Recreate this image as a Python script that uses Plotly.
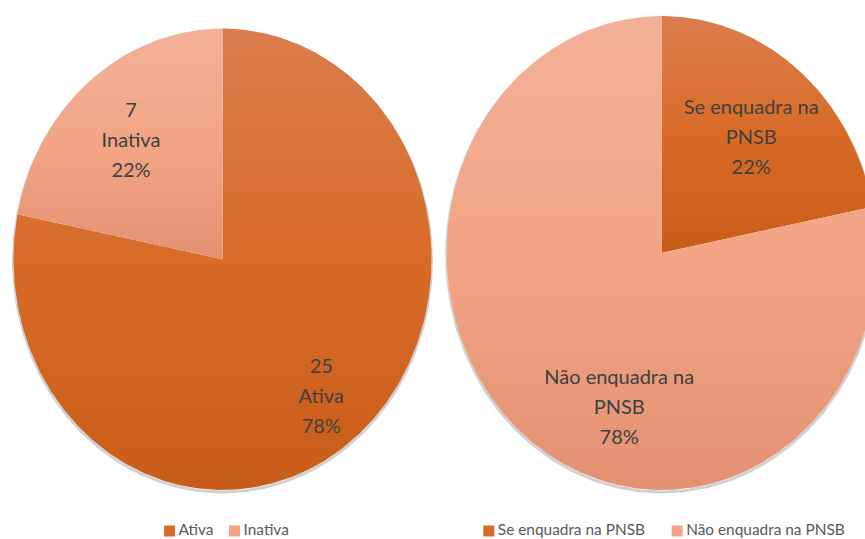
import numpy as np
import plotly.graph_objects as go

# dados
status_labels = ["Ativa", "Inativa"]
status_values = [25, 7]

pnsb_labels = ["Se enquadra na PNSB", "Não enquadra na PNSB"]
pnsb_values = [7, 25]

# cores (topo, meio, base) para o degradê vertical
escuro = ["#DA7D4D", "#D96B27", "#C85C19"]
claro = ["#F2B198", "#F3A585", "#E39172"]

W, H = 865, 539
fonte = "Lato"

fig = go.Figure()


def fatia(cx, cy, rx, ry, a0, a1):
    t = np.linspace(a0, a1, max(int((a1 - a0) * 80), 4))
    xs = np.concatenate([[cx], cx + rx * np.sin(t), [cx]])
    ys = np.concatenate([[cy], cy - ry * np.cos(t), [cy]])
    return xs, ys


def pizza(cx, cy, rx, ry, labels, values, cores, textos, rlab):
    total = sum(values)
    # sombra leve na borda
    t = np.linspace(0, 2 * np.pi, 300)
    fig.add_trace(go.Scatter(x=cx + rx * np.sin(t), y=cy + 2 - ry * np.cos(t), mode="lines",
                             line=dict(color="rgba(0,0,0,0.18)", width=3), hoverinfo="skip",
                             showlegend=False))
    a = 0.0
    for i, (lab, v) in enumerate(zip(labels, values)):
        a1 = a + v / total * 2 * np.pi
        xs, ys = fatia(cx, cy, rx, ry, a, a1)
        c = cores[i]
        fig.add_trace(go.Scatter(
            x=xs, y=ys, mode="lines", fill="toself", line=dict(width=0, color=c[1]),
            fillgradient=dict(type="vertical",
                              colorscale=[[0, c[2]], [0.5, c[1]], [1, c[0]]]),
            name=lab, showlegend=False, hoverinfo="name"))
        # rótulo
        mid = (a + a1) / 2
        dx, dy, r = rlab[i]
        lx = cx + rx * r * np.sin(mid) + dx
        ly = cy - ry * r * np.cos(mid) + dy + 6
        linhas = textos[i]
        n = len(linhas)
        fig.add_trace(go.Scatter(
            x=[lx] * n, y=[ly + (k - (n - 1) / 2) * 30 for k in range(n)],
            mode="text", text=linhas, textposition="middle center",
            textfont=dict(family=fonte, size=20, color="#404040"),
            showlegend=False, hoverinfo="skip"))
        a = a1


def legenda(cx, y, labels, cores, gap=20):
    larg = [len(l) * 7.7 for l in labels]
    total = sum(14 + w for w in larg) + gap * (len(labels) - 1)
    x = cx - total / 2
    for lab, c, w in zip(labels, cores, larg):
        fig.add_trace(go.Scatter(
            x=[x + 5], y=[y], mode="markers",
            marker=dict(symbol="square", size=11, color=c[1], line=dict(width=0)),
            showlegend=False, hoverinfo="skip"))
        fig.add_trace(go.Scatter(
            x=[x + 14], y=[y], mode="text", text=[lab], textposition="middle right",
            textfont=dict(family=fonte, size=15.4, color="#595959"),
            showlegend=False, hoverinfo="skip"))
        x += 14 + w + gap


tot1 = sum(status_values)
txt1 = [[str(v), l, f"{v / tot1:.0%}"] for l, v in zip(status_labels, status_values)]
pizza(222.5, 259.3, 209, 230.7, status_labels, status_values, [escuro, claro], txt1,
      [(0, 0, 0.745), (0, 0, 0.69)])

tot2 = sum(pnsb_values)
txt2 = [["Se enquadra na", "PNSB", f"{pnsb_values[0] / tot2:.0%}"],
        ["Não enquadra na", "PNSB", f"{pnsb_values[1] / tot2:.0%}"]]
pizza(661.7, 253, 215, 237, pnsb_labels, pnsb_values, [escuro, claro], txt2,
      [(-6, 8, 0.7), (53, 22, 0.7)])

legenda(231, 531, status_labels, [escuro, claro], gap=12.5)
legenda(662, 531, pnsb_labels, [escuro, claro], gap=28)

fig.update_layout(
    width=W, height=H,
    margin=dict(l=0, r=0, t=0, b=0),
    paper_bgcolor="white", plot_bgcolor="white",
    xaxis=dict(range=[0, W], visible=False, fixedrange=True),
    yaxis=dict(range=[H, 0], visible=False, fixedrange=True),
    showlegend=False,
)

fig.write_html("out.html", config={"displayModeBar": False},
               post_script="document.body.style.margin='0';document.body.style.overflow='hidden';")
